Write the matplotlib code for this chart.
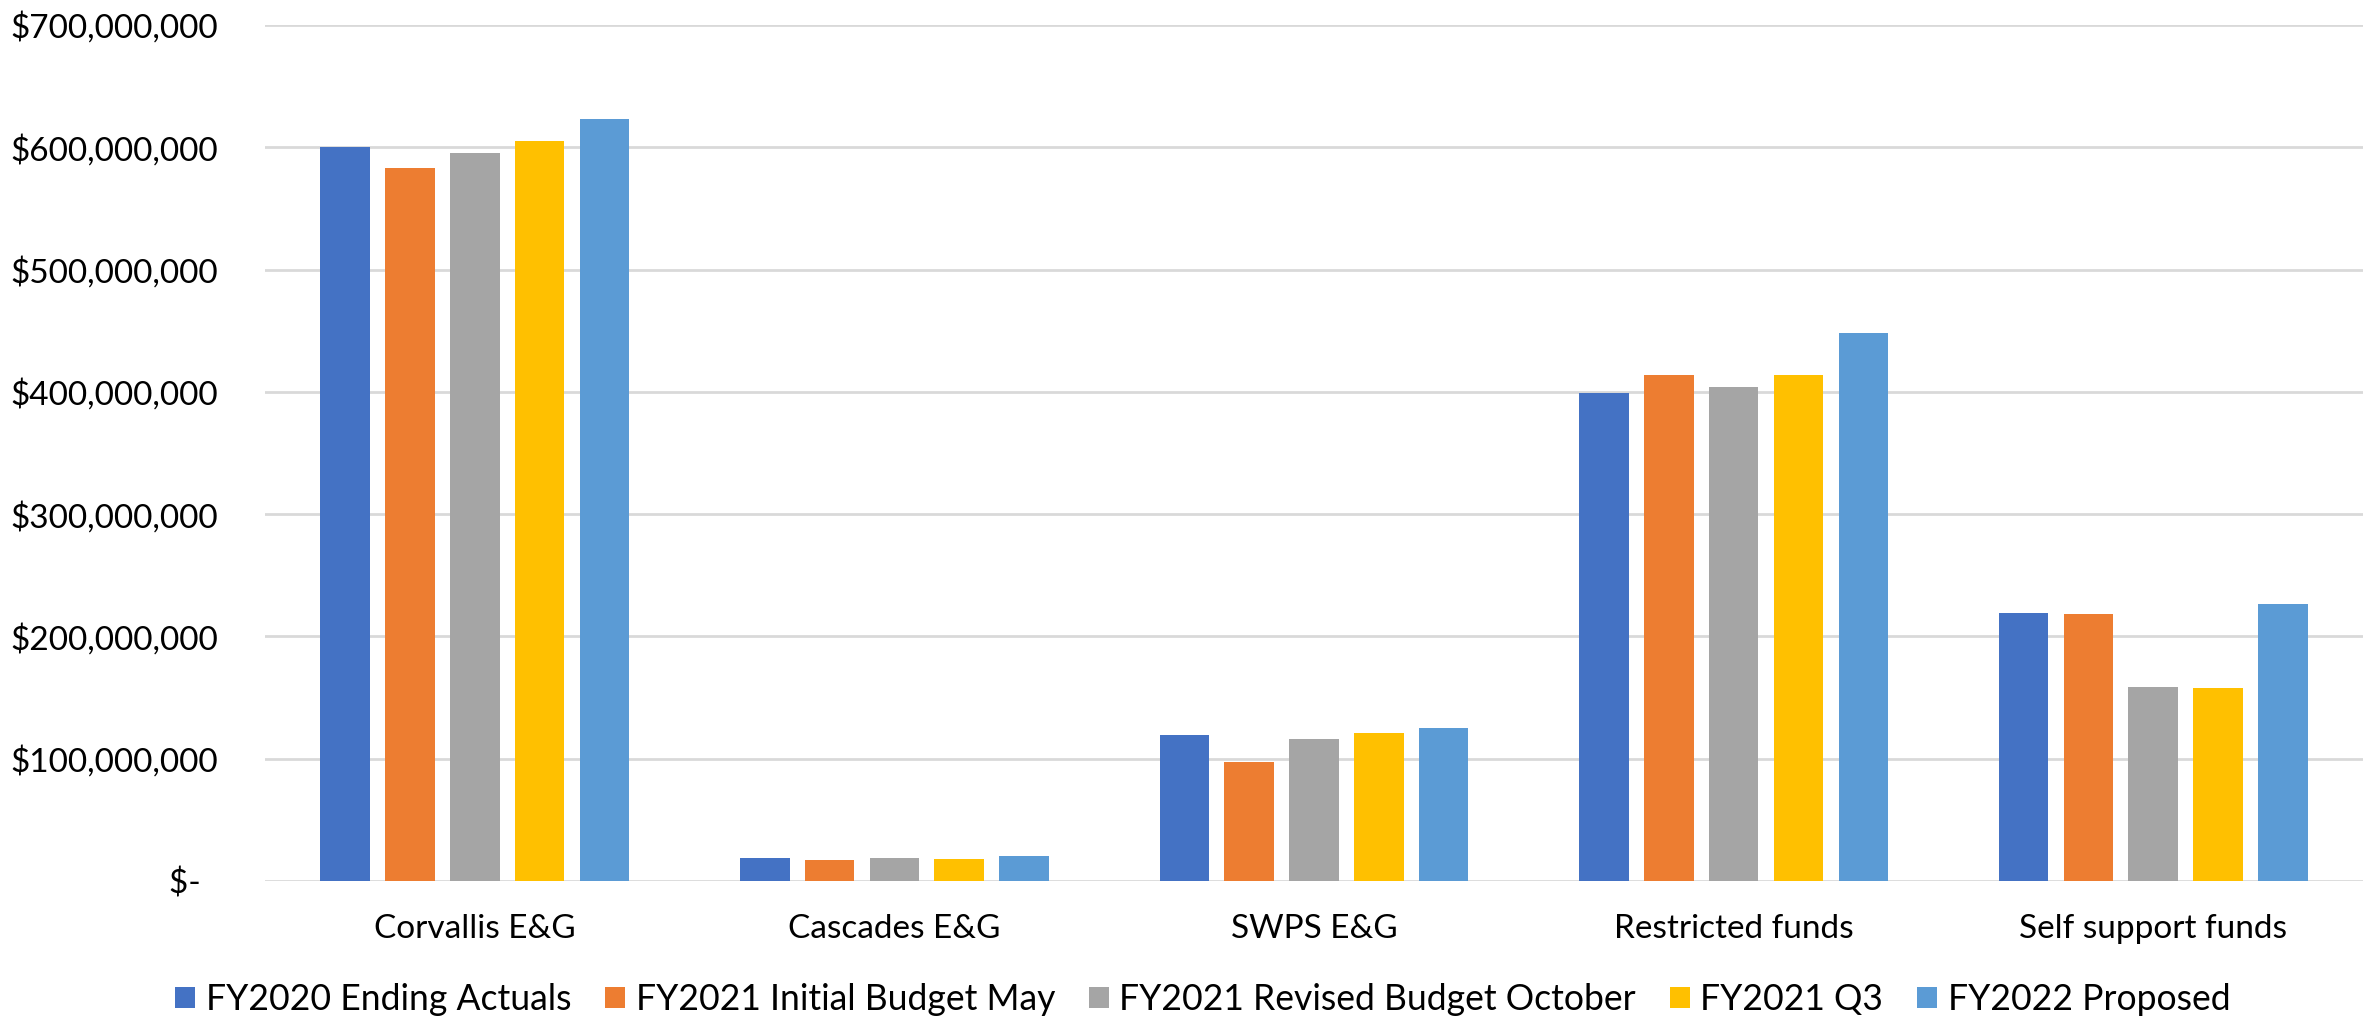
import matplotlib
matplotlib.use("Agg")
import matplotlib.pyplot as plt
import numpy as np
from matplotlib.ticker import FuncFormatter

plt.rcParams['font.family'] = ['Lato', 'DejaVu Sans']

categories = ["Corvallis E&G", "Cascades E&G", "SWPS E&G", "Restricted funds", "Self support funds"]
series_names = ["FY2020 Ending Actuals", "FY2021 Initial Budget May",
                "FY2021 Revised Budget October", "FY2021 Q3", "FY2022 Proposed"]
fy2020_actuals = [600.5e6, 18.8e6, 119.5e6, 398.9e6, 219.3e6]
fy2021_initial = [582.9e6, 17.1e6, 97.7e6, 413.6e6, 218.2e6]
fy2021_revised = [595.1e6, 18.8e6, 115.9e6, 403.8e6, 158.4e6]
fy2021_q3 = [604.9e6, 18.0e6, 121.1e6, 413.6e6, 157.6e6]
fy2022_proposed = [623.1e6, 20.4e6, 125.2e6, 448.0e6, 226.9e6]
series_values = [fy2020_actuals, fy2021_initial, fy2021_revised, fy2021_q3, fy2022_proposed]
colors = ["#4472C4", "#ED7D31", "#A5A5A5", "#FFC000", "#5B9BD5"]
y_ticks = [0, 100e6, 200e6, 300e6, 400e6, 500e6, 600e6, 700e6]

W, H = 2363, 1016
fig = plt.figure(figsize=(W / 100, H / 100), dpi=100)
ax = fig.add_axes([265 / W, 135 / H, 1 - 265 / W, 856 / H])

x = np.arange(len(categories))
pitch = 0.1545
bw = 0.118
for i, (name, vals, c) in enumerate(zip(series_names, series_values, colors)):
    ax.bar(x + (i - 2) * pitch, vals, width=bw, color=c, label=name, zorder=3)

ax.set_xlim(-0.5, len(categories) - 0.5)
ax.set_ylim(0, 700e6)
ax.set_yticks(y_ticks)

def fmt(v, pos):
    if v == 0:
        return "$-  "
    return "${:,.0f}".format(v)

ax.yaxis.set_major_formatter(FuncFormatter(fmt))
ax.set_xticks(x)
ax.set_xticklabels(categories)
ax.tick_params(axis='both', length=0, labelsize=24, colors='black')
ax.tick_params(axis='y', pad=34)
ax.tick_params(axis='x', pad=24)
ax.grid(axis='y', color='#D9D9D9', linewidth=2, zorder=0)
for s in ax.spines.values():
    s.set_visible(False)

leg = fig.legend(loc='lower center', bbox_to_anchor=(0.509, -0.014), ncol=5, frameon=False,
                 fontsize=25.6, handlelength=0.56, handleheight=0.56, handletextpad=0.3,
                 columnspacing=0.95, borderaxespad=0)

fig.savefig("out.png", dpi=100)
